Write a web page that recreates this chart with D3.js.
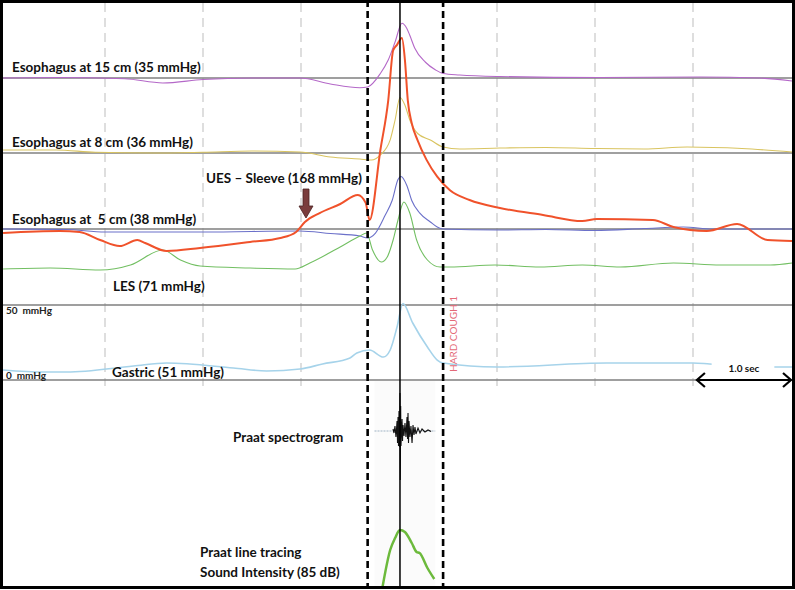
<!DOCTYPE html>
<html>
<head>
<meta charset="utf-8">
<script src="https://cdn.jsdelivr.net/npm/d3@7"></script>
<style>
  body { margin: 0; background: #fff; }
  text { font-family: Lato, "Open Sans", sans-serif; }
</style>
</head>
<body>
<div id="chart"></div>
<script>
var width = 795,
    height = 590;

// time in seconds, values in mmHg above each channel's baseline
var es15 = [[-0.04,0],[0.5,0.3],[1.2,-0.5],[1.59,-3.3],[2.0,-1],[2.5,0],[2.99,0],[3.3,-4],[3.6,-6.5],[3.68,-6],
  [3.81,3],[3.89,12],[3.96,24],[4.03,36.5],[4.08,33],[4.11,28.5],[4.16,20],[4.27,10.5],[4.37,5.5],[4.45,3],
  [4.62,2],[5.03,1],[6.05,0.3],[7.07,0.7],[7.68,0],[8.01,-2]];

var es8 = [[-0.04,2],[0.5,2],[0.9,0.5],[1.5,0],[2.0,0.5],[2.5,1.3],[2.99,0.7],[3.3,-2.7],[3.6,-4],[3.72,-4.7],
  [3.81,-1.3],[3.91,8.7],[3.96,22],[4.01,37],[4.06,32],[4.11,22],[4.19,13],[4.32,8.7],[4.45,4],[4.62,2.7],
  [5.03,3.3],[5.5,3.7],[6.0,3],[6.5,2.7],[6.94,4],[7.5,3],[8.01,0.7]];

var es5 = [[-0.04,0],[0.6,-0.3],[1.0,-2],[2.0,-2],[2.99,-1.3],[3.3,-3],[3.6,-4.7],[3.68,-6],[3.76,-2.7],
  [3.86,9.3],[3.93,19],[3.99,33],[4.02,35],[4.08,29],[4.13,19],[4.21,10.7],[4.32,4.7],[4.39,1.3],[4.45,0],
  [5.0,-0.7],[5.5,-0.3],[6.0,-1],[6.5,0.3],[6.9,1.3],[7.2,0],[8.01,0]];

var ues = [[-0.04,-3.5],[0.54,-1.8],[0.74,-2.6],[0.95,-9.7],[1.15,-15],[1.33,-9.7],[1.41,-12.3],[1.63,-19.4],
  [1.97,-16.7],[2.48,-11.4],[2.79,-7.9],[2.95,-2.6],[3.04,6.2],[3.19,14],[3.40,22],[3.58,30],[3.66,23],
  [3.70,7.9],[3.81,69.5],[3.89,113],[3.94,157],[3.98,162],[4.03,168],[4.06,149],[4.09,113],[4.13,93],
  [4.19,78],[4.28,61],[4.39,46],[4.52,34],[4.72,25.5],[5.03,18.5],[5.47,12.3],[5.87,7],[6.02,8.8],
  [6.59,7.9],[6.80,1.8],[7.14,-1.8],[7.45,4.4],[7.76,-9.7],[8.01,-10.6]];

var les = [[-0.04,3],[0.44,4],[0.95,2],[1.26,7],[1.59,22],[1.77,12],[1.97,6],[2.48,4],[2.94,3],[3.09,9],
  [3.40,25],[3.60,36],[3.67,39],[3.73,22],[3.82,10],[3.88,15],[3.94,32],[3.99,52],[4.05,70],[4.11,59],
  [4.18,32],[4.29,12],[4.42,5],[4.52,5],[4.98,7],[5.44,5],[5.87,7],[6.26,5],[6.80,9],[7.28,7],[7.79,7],[8.01,9]];

var gastric = [[-0.04,6.7],[0.37,5.3],[0.61,5.3],[1.29,9.3],[1.63,11.3],[2.31,8],[2.65,6],[2.99,7.3],
  [3.22,10.7],[3.50,14.7],[3.57,18],[3.70,20],[3.84,15.3],[3.91,20],[3.98,35.3],[4.04,51],[4.14,38],
  [4.29,22],[4.39,13.3],[4.45,11.3],[5.0,8.7],[6.12,11.3],[7.0,11.3],[7.17,10.7],[7.84,8.7],[8.01,8.7]];

// sound intensity in dB
var sound = [[3.83,56],[3.91,75],[3.96,81],[4.01,85],[4.06,84],[4.13,78.5],[4.18,74],[4.21,73.5],
  [4.29,66],[4.36,60.5]];

// waveform samples (relative amplitude)
var wave = [[3.939,2],[3.949,-2],[3.959,5],[3.969,-6],[3.980,10],[3.985,-12],[3.990,14],[3.995,-15],
  [4.000,20],[4.005,-16],[4.010,38],[4.013,-49],[4.017,25],[4.020,-15],[4.031,12],[4.036,-10],[4.041,6],
  [4.051,-5],[4.061,8],[4.071,-6],[4.082,14],[4.087,-8],[4.092,18],[4.097,-12],[4.102,10],[4.112,-6],
  [4.122,5],[4.133,-12],[4.143,6],[4.153,-4],[4.163,4],[4.173,-3],[4.194,3],[4.214,-2],[4.235,2],
  [4.265,-1],[4.296,1],[4.327,-0.5]];

var gridSecs = [1, 2, 3, 5, 6, 7];
var cough = [3.68, 4.45];
var peakTime = 4.01;

var x = d3.scaleLinear().domain([0, 8]).range([7, 791]);

function yScale(base, pxPerUnit) {
  return d3.scaleLinear().domain([0, 1]).range([base, base - pxPerUnit]);
}

var channels = [
  {data: es15, y: yScale(78, 1.5), color: "#b468c8", w: 1.1},
  {data: es8, y: yScale(153, 1.5), color: "#d9c460", w: 1.1},
  {data: es5, y: yScale(229, 1.5), color: "#6b70c9", w: 1.1},
  {data: les, y: yScale(272, 1), color: "#72bf62", w: 1.1},
  {data: gastric, y: yScale(380, 1.5), color: "#a6d3ea", w: 1.6},
  {data: ues, y: yScale(229, 191 / 168), color: "#f0522b", w: 2}
];

var svg = d3.select("#chart").append("svg")
  .attr("width", width)
  .attr("height", height);

// faint backdrop behind the audio traces
svg.append("rect")
  .attr("x", x(3.75)).attr("y", 381)
  .attr("width", x(4.37) - x(3.75)).attr("height", 206)
  .attr("fill", "#fbfbfb");

// one second grid
svg.selectAll(".grid").data(gridSecs).enter().append("line")
  .attr("class", "grid")
  .attr("x1", d => x(d)).attr("x2", d => x(d))
  .attr("y1", 3).attr("y2", 386)
  .attr("stroke", "#c9c9c9")
  .attr("stroke-width", 1.2)
  .attr("stroke-dasharray", "9,6");

// baselines
var baseLines = [78, 153, 229, 305, 380];
svg.selectAll(".base").data(baseLines).enter().append("line")
  .attr("class", "base")
  .attr("x1", 3).attr("x2", 792)
  .attr("y1", d => d).attr("y2", d => d)
  .attr("stroke", (d, i) => i == 1 ? "#a0a0a0" : "#7f7f7f")
  .attr("stroke-width", (d, i) => i == 1 ? 2 : 1.3);

// pressure traces
channels.forEach(function(c) {
  var line = d3.line()
    .x(d => x(d[0]))
    .y(d => c.y(d[1]))
    .curve(d3.curveMonotoneX);
  svg.append("path")
    .datum(c.data)
    .attr("d", line)
    .attr("fill", "none")
    .attr("stroke", c.color)
    .attr("stroke-width", c.w)
    .attr("stroke-linejoin", "round");
});

// audio: waveform and intensity
var yWave = d3.scaleLinear().domain([0, 50]).range([431, 381]);
svg.append("line")
  .attr("x1", x(3.75)).attr("x2", x(4.37))
  .attr("y1", 431).attr("y2", 431)
  .attr("stroke", "#9fb3c4")
  .attr("stroke-dasharray", "2,1");
svg.append("path")
  .datum(wave)
  .attr("d", d3.line().x(d => x(d[0])).y(d => yWave(d[1])))
  .attr("fill", "none")
  .attr("stroke", "#111")
  .attr("stroke-width", 1.1);

var yDb = d3.scaleLinear().domain([55, 85]).range([590, 530]);
svg.append("path")
  .datum(sound)
  .attr("d", d3.line().x(d => x(d[0])).y(d => yDb(d[1])).curve(d3.curveMonotoneX))
  .attr("fill", "none")
  .attr("stroke", "#6cba3c")
  .attr("stroke-width", 2.5);

// event markers
svg.selectAll(".cough").data(cough).enter().append("line")
  .attr("class", "cough")
  .attr("x1", d => x(d)).attr("x2", d => x(d))
  .attr("y1", 0).attr("y2", 588)
  .attr("stroke", "#000")
  .attr("stroke-width", 2.6)
  .attr("stroke-dasharray", "7,4");

svg.append("line")
  .attr("x1", x(peakTime)).attr("x2", x(peakTime))
  .attr("y1", 0).attr("y2", 588)
  .attr("stroke", "#000")
  .attr("stroke-width", 1.5);

svg.append("rect")
  .attr("x", x(4.08)).attr("y", 0)
  .attr("width", x(4.49) - x(4.08)).attr("height", 3)
  .attr("fill", "#5b80a8");

// UES arrow
svg.append("path")
  .attr("d", "M303,189 L309,189 L309,206 L313,206 L306,218 L299,206 L303,206 Z")
  .attr("fill", "#7a3c3c")
  .attr("stroke", "#4a2222")
  .attr("stroke-width", 0.8);

// labels
var labels = [
  {t: "Esophagus at 15 cm (35 mmHg)", x: 12, y: 72},
  {t: "Esophagus at 8 cm (36 mmHg)", x: 12, y: 147},
  {t: "UES \u2013 Sleeve (168 mmHg)", x: 206, y: 183},
  {t: "Esophagus at  5 cm (38 mmHg)", x: 12, y: 224},
  {t: "LES (71 mmHg)", x: 113, y: 291},
  {t: "Gastric (51 mmHg)", x: 112, y: 377},
  {t: "Praat spectrogram", x: 233, y: 442},
  {t: "Praat line tracing", x: 200, y: 557},
  {t: "Sound Intensity (85 dB)", x: 200, y: 577}
];
svg.selectAll(".lab").data(labels).enter().append("text")
  .attr("class", "lab")
  .attr("x", d => d.x).attr("y", d => d.y)
  .attr("font-size", 13.5)
  .attr("font-weight", "bold")
  .attr("fill", "#111")
  .style("white-space", "pre")
  .attr("xml:space", "preserve")
  .text(d => d.t);

svg.append("text").attr("x", 6).attr("y", 314)
  .attr("font-size", 10).attr("font-weight", "bold").attr("fill", "#222")
  .attr("xml:space", "preserve").text("50  mmHg");
svg.append("text").attr("x", 6).attr("y", 379)
  .attr("font-size", 10).attr("font-weight", "bold").attr("fill", "#222")
  .attr("xml:space", "preserve").text("0  mmHg");

svg.append("text")
  .attr("transform", "translate(457,372) rotate(-90)")
  .attr("font-family", "Liberation Sans, sans-serif")
  .attr("font-size", 10)
  .attr("fill", "#e46a78")
  .text("HARD COUGH 1");

// 1 second scale bar
var barY = 380, bx0 = x(7.04), bx1 = x(8.0);
svg.append("rect").attr("x", x(7.19)).attr("y", 360)
  .attr("width", x(7.83) - x(7.19)).attr("height", 17).attr("fill", "#fff");
svg.append("text").attr("x", (bx0 + bx1) / 2).attr("y", 372)
  .attr("text-anchor", "middle")
  .attr("font-size", 10).attr("font-weight", "bold").attr("fill", "#111")
  .text("1.0 sec");
svg.append("path")
  .attr("d", "M" + bx0 + "," + barY + "H" + bx1 +
    "M" + (bx0 + 8) + "," + (barY - 7) + "L" + bx0 + "," + barY + "L" + (bx0 + 8) + "," + (barY + 7) +
    "M" + (bx1 - 8) + "," + (barY - 7) + "L" + bx1 + "," + barY + "L" + (bx1 - 8) + "," + (barY + 7))
  .attr("fill", "none")
  .attr("stroke", "#000")
  .attr("stroke-width", 2.2);

// frame
svg.append("rect")
  .attr("x", 1.5).attr("y", 1.5)
  .attr("width", width - 3).attr("height", 586)
  .attr("fill", "none")
  .attr("stroke", "#000")
  .attr("stroke-width", 3);
</script>
</body>
</html>
